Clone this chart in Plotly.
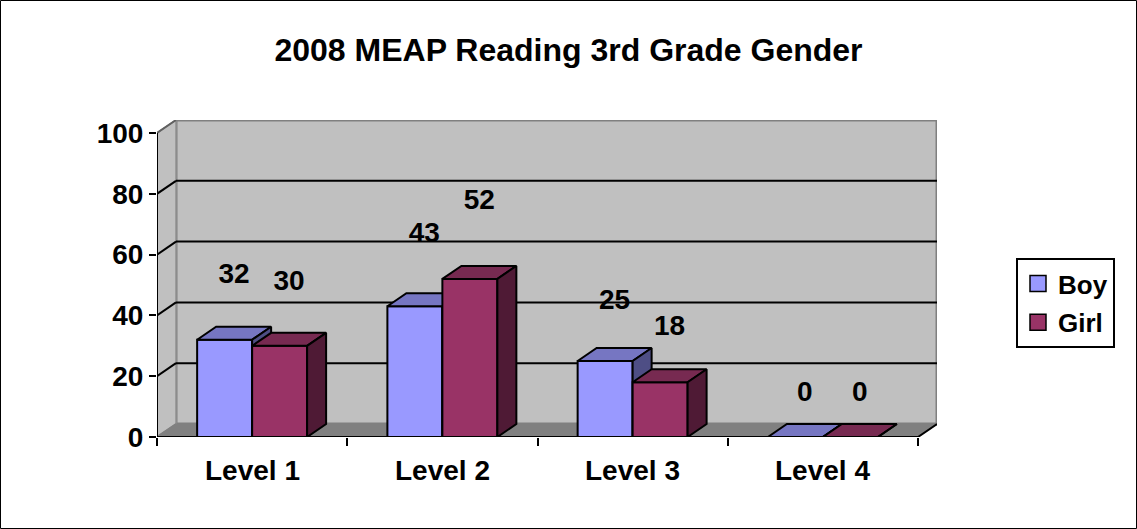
import plotly.graph_objects as go

# ---- data ----
categories = ["Level 1", "Level 2", "Level 3", "Level 4"]
series_names = ["Boy", "Girl"]
boy = [32, 43, 25, 0]
girl = [30, 52, 18, 0]
y_ticks = [0, 20, 40, 60, 80, 100]

# ---- style / geometry constants ----
FONT = "Liberation Sans"
front_col = {"Boy": "#9999FF", "Girl": "#993366"}
top_col = {"Boy": "#7676C2", "Girl": "#772A51"}
side_col = {"Boy": "#4E4E85", "Girl": "#4F1A35"}
WALL = "#C0C0C0"
FLOOR = "#808080"
PX_X = 190.25          # pixels per category unit
PX_Y = 3.04            # pixels per value unit
DX = 19 / PX_X         # depth offset (x units)
DY = 13 / PX_Y         # depth offset (y units)
W = 0.289              # bar width (category units)
YMAX = 100

fig = go.Figure()


def poly(xs, ys, fill, line_col="black", lw=2):
    fig.add_trace(go.Scatter(
        x=xs + [xs[0]], y=ys + [ys[0]], mode="lines", fill="toself",
        fillcolor=fill, line=dict(color=line_col, width=lw),
        hoverinfo="skip", showlegend=False))


def seg(xs, ys, col="black", lw=2):
    fig.add_trace(go.Scatter(x=xs, y=ys, mode="lines",
                             line=dict(color=col, width=lw),
                             hoverinfo="skip", showlegend=False))


x0, x1 = -0.5, len(categories) - 0.5
# back wall
poly([x0 + DX, x1 + DX, x1 + DX, x0 + DX], [DY, DY, YMAX + DY, YMAX + DY], WALL, "#808080", 3)
# left wall
poly([x0, x0 + DX, x0 + DX, x0], [0, DY, YMAX + DY, YMAX], WALL, "#909090", 1.5)
# floor
poly([x0, x1, x1 + DX, x0 + DX], [0, 0, DY, DY], FLOOR, "#808080", 1)
# gridlines on back wall and left wall diagonals
for v in y_ticks[1:-1]:
    seg([x0 + DX, x1 + DX], [v + DY, v + DY])
for v in y_ticks[1:]:
    seg([x0, x0 + DX], [v, v + DY], "black" if v < YMAX else "#606060")
seg([x0, x0 + DX], [0, DY], "#808080", 2)
# axis lines
seg([x0, x0], [0, YMAX])
seg([x0, x1, x1 + DX], [0, 0, DY])

# bars
for i in range(len(categories)):
    for name, vals, left in (("Boy", boy, i - W), ("Girl", girl, i)):
        v = vals[i]
        r = left + W
        # front
        poly([left, r, r, left], [0, 0, v, v], front_col[name])
        # top
        poly([left, r, r + DX, left + DX], [v, v, v + DY, v + DY], top_col[name])
        # side
        poly([r, r + DX, r + DX, r], [0, DY, v + DY, v], side_col[name])

# data labels (Excel 3D label placement approximated)
for name, vals, shift in (("Boy", boy, -W / 2), ("Girl", girl, W / 2)):
    fig.add_trace(go.Scatter(
        x=[i + shift + DX * 0.5 for i in range(len(vals))],
        y=[14.0 + 1.22 * v for v in vals],
        mode="text", text=[str(v) for v in vals],
        textfont=dict(family=FONT, size=28, color="black", weight="bold"),
        textposition="middle center", cliponaxis=False,
        hoverinfo="skip", showlegend=False))

# legend entries
for name in series_names:
    fig.add_trace(go.Scatter(
        x=[None], y=[None], mode="markers", name=name,
        marker=dict(symbol="square", size=19, color=front_col[name],
                    line=dict(color="black", width=1.5)),
        legendgroup=name))

# category labels
for i, c in enumerate(categories):
    fig.add_annotation(x=i, y=0, xref="x", yref="y", text=c, showarrow=False,
                       yanchor="middle", yshift=-33,
                       font=dict(family=FONT, size=28, color="black", weight="bold"))

L, PW = 157, 780
T, PH = 120, 317
fig.update_layout(
    width=1137, height=529, autosize=False,
    margin=dict(l=L, r=1137 - L - PW, t=T, b=529 - T - PH, pad=0),
    paper_bgcolor="white", plot_bgcolor="white",
    title=dict(text="2008 MEAP Reading 3rd Grade Gender", x=0.5, xref="container",
               xanchor="center", y=1 - 50 / 529, yref="container", yanchor="middle",
               font=dict(family=FONT, size=32, color="black", weight="bold")),
    xaxis=dict(range=[x0, x1 + DX], tickvals=[x0 + k for k in range(len(categories) + 1)],
               ticktext=[""] * (len(categories) + 1), ticks="outside", ticklen=8,
               tickwidth=2, tickcolor="black", showgrid=False, zeroline=False,
               showline=False, fixedrange=True),
    yaxis=dict(range=[0, YMAX + DY], tickvals=y_ticks, ticks="outside", ticklen=7,
               tickwidth=2, tickcolor="black", showgrid=False, zeroline=False,
               showline=False, fixedrange=True,
               tickfont=dict(family=FONT, size=28, color="black", weight="bold")),
    legend=dict(x=(1016 - L) / PW, y=(T + PH - 258) / PH, xanchor="left", yanchor="top",
                bordercolor="black", borderwidth=2, bgcolor="white",
                font=dict(family=FONT, size=26, color="black", weight="bold"),
                itemsizing="trace", tracegroupgap=2),
    showlegend=True,
    shapes=[dict(type="rect", xref="paper", yref="paper",
                 x0=-L / PW + 0.5 / PW, x1=(1137 - L - 0.5) / PW,
                 y0=-(529 - T - PH - 0.5) / PH, y1=1 + (T - 0.5) / PH,
                 line=dict(color="black", width=1), layer="below")],
)

fig.write_html("out.html",
               config={"displayModeBar": False},
               post_script="document.body.style.margin='0px';"
                           "document.body.style.overflow='hidden';")
